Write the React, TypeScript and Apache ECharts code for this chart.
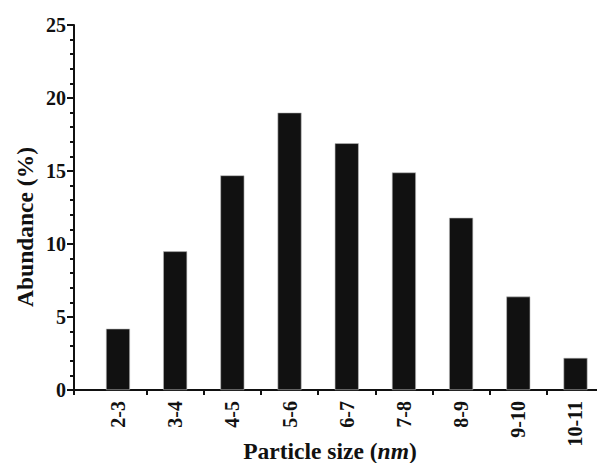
import React, { useEffect, useRef } from "react";
import * as echarts from "echarts";

const categories = ["2-3", "3-4", "4-5", "5-6", "6-7", "7-8", "8-9", "9-10", "10-11"];
const abundance = [4.2, 9.5, 14.7, 19.0, 16.9, 14.9, 11.8, 6.4, 2.2];
const yTicks = [0, 5, 10, 15, 20, 25];

const FONT = '"Liberation Serif", "Times New Roman", serif';
const INK = "#111111";

export default function App() {
  const ref = useRef<HTMLDivElement>(null);
  useEffect(() => {
    if (!ref.current) return;
    const chart = echarts.init(ref.current, undefined, { renderer: "svg" });
    const xMin = -0.769;
    const xMax = 8.376;
    const bandEdges = categories.slice(0, -1).map((_, i) => i + 0.5);
    chart.setOption({
      animation: false,
      backgroundColor: "#ffffff",
      grid: {
        left: 74,
        right: 0,
        top: 25,
        bottom: 73,
        containLabel: false,
        outerBoundsMode: "none",
      },
      xAxis: {
        type: "value",
        min: xMin,
        max: xMax,
        name: "Particle size ({i|nm})",
        nameLocation: "middle",
        nameGap: 49,
        nameMoveOverlap: false,
        nameTextStyle: {
          fontFamily: FONT,
          fontWeight: "bold",
          fontSize: 23.5,
          color: INK,
          padding: [0, 11, 0, 0],
          rich: {
            i: {
              fontFamily: FONT,
              fontWeight: "bold",
              fontStyle: "italic",
              fontSize: 23.5,
              color: INK,
            },
          },
        },
        splitLine: { show: false },
        axisLine: { show: true, onZero: false, lineStyle: { color: INK, width: 2 } },
        axisTick: {
          show: true,
          length: 5,
          inside: false,
          customValues: [xMin, ...bandEdges],
          lineStyle: { color: INK, width: 2 },
        },
        axisLabel: {
          customValues: categories.map((_, i) => i),
          formatter: (v: number) => categories[Math.round(v)] ?? "",
          rotate: 90,
          margin: 11,
          fontFamily: FONT,
          fontWeight: "bold",
          fontSize: 20,
          color: INK,
        },
      },
      yAxis: {
        type: "value",
        min: yTicks[0],
        max: yTicks[yTicks.length - 1],
        interval: 5,
        name: "Abundance (%)",
        nameLocation: "middle",
        nameGap: 37,
        nameMoveOverlap: false,
        nameTextStyle: {
          fontFamily: FONT,
          fontWeight: "bold",
          fontSize: 23.5,
          color: INK,
          padding: [0, 39, 0, 0],
        },
        splitLine: { show: false },
        axisLine: { show: true, onZero: false, lineStyle: { color: INK, width: 2 } },
        axisTick: { show: true, length: 7, lineStyle: { color: INK, width: 2 } },
        minorTick: { show: true, splitNumber: 5, length: 4, lineStyle: { color: INK, width: 2 } },
        axisLabel: {
          margin: 8,
          fontFamily: FONT,
          fontWeight: "bold",
          fontSize: 20,
          color: INK,
        },
      },
      series: [
        {
          type: "bar",
          barWidth: 24,
          data: abundance.map((v, i) => [i, v]),
          itemStyle: { color: INK, borderColor: "#bdbdbd", borderWidth: 0.6 },
        },
      ],
    });
    return () => chart.dispose();
  }, []);
  return (
    <div
      ref={ref}
      style={{ position: "absolute", left: 0, top: 0, width: 597, height: 463 }}
    />
  );
}
